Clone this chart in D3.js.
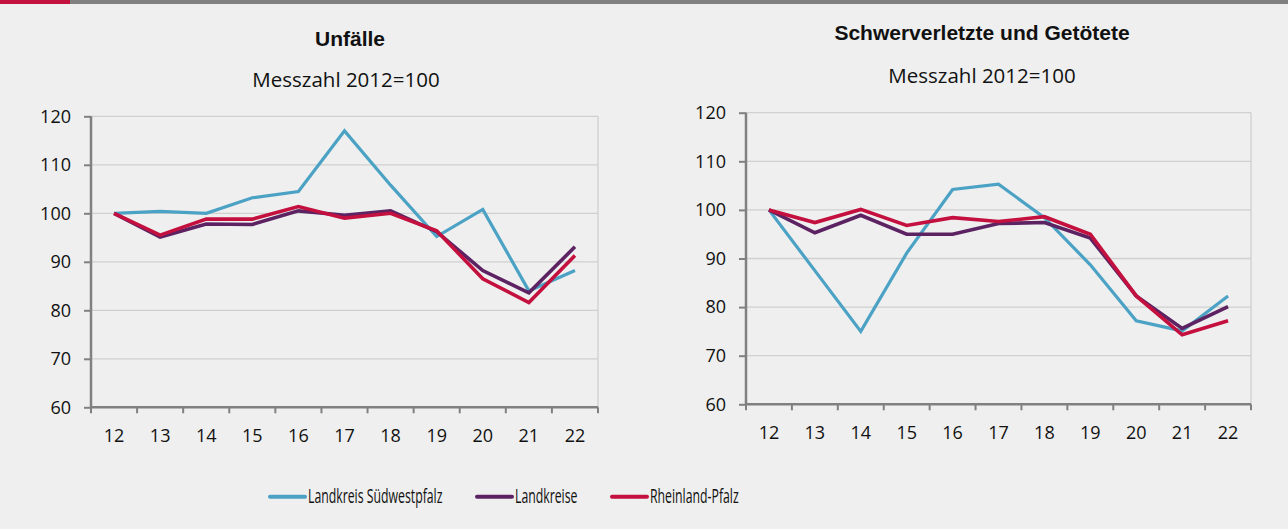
<!DOCTYPE html>
<html>
<head>
<meta charset="utf-8">
<script src="https://cdn.jsdelivr.net/npm/d3@7"></script>
<style>
  html, body { margin: 0; padding: 0; background: #eeefee; }
  svg { display: block; }
</style>
</head>
<body>
<div id="myPlot"></div>
<script>
// Years (2012..2022, shown as two digits)
const years = ["12", "13", "14", "15", "16", "17", "18", "19", "20", "21", "22"];
const yTicks = [60, 70, 80, 90, 100, 110, 120];

const seriesNames = ["Landkreis Südwestpfalz", "Landkreise", "Rheinland-Pfalz"];

// Unfälle, Messzahl 2012=100
const unfaelleSWP   = [100, 100.4, 100, 103.2, 104.5, 117, 105.8, 95.2, 100.8, 84.0, 88.2];
const unfaelleLK    = [100, 95.1, 97.8, 97.7, 100.5, 99.6, 100.5, 96.2, 88.2, 83.6, 93.1];
const unfaelleRLP   = [100, 95.5, 98.8, 98.8, 101.4, 99.0, 100.0, 96.4, 86.5, 81.6, 91.3];

// Schwerverletzte und Getötete, Messzahl 2012=100
const schwerSWP     = [100, 87.5, 75.0, 91.1, 104.2, 105.3, 98.4, 88.7, 77.2, 75.1, 82.3];
const schwerLK      = [100, 95.3, 98.9, 95.0, 95.0, 97.2, 97.4, 94.2, 82.3, 75.6, 80.1];
const schwerRLP     = [100, 97.4, 100.1, 96.8, 98.4, 97.6, 98.6, 95.0, 82.3, 74.3, 77.2];

const colors = ["#4ba2c5", "#5c2262", "#c4103f"];

const width = 1288, height = 529;

const svg = d3.select("#myPlot")
    .append("svg")
    .attr("width", width)
    .attr("height", height);

svg.append("rect").attr("width", width).attr("height", height).attr("fill", "#eeefee");

// top bar
svg.append("rect").attr("x", 0).attr("y", 0).attr("width", width).attr("height", 4).attr("fill", "#808080");
svg.append("rect").attr("x", 0).attr("y", 0).attr("width", 70).attr("height", 4).attr("fill", "#c4123f");

createLineChart({
    left: 91, right: 598, top: 116.3, bottom: 407.3,
    title: "Unfälle", titleX: 350, titleY: 46,
    subtitle: "Messzahl 2012=100", subX: 346, subY: 87,
    series: [unfaelleSWP, unfaelleLK, unfaelleRLP]
});

createLineChart({
    left: 746, right: 1251, top: 112.7, bottom: 404.3,
    title: "Schwerverletzte und Getötete", titleX: 982, titleY: 40,
    subtitle: "Messzahl 2012=100", subX: 982, subY: 83,
    series: [schwerSWP, schwerLK, schwerRLP]
});

function createLineChart(c) {
    const g = svg.append("g");

    const x = d3.scaleBand()
        .domain(years)
        .range([c.left, c.right])
        .padding(0);

    const y = d3.scaleLinear()
        .domain([60, 120])
        .range([c.bottom, c.top]);

    // titles
    g.append("text")
        .attr("x", c.titleX).attr("y", c.titleY)
        .attr("text-anchor", "middle")
        .style("font-family", "'Liberation Sans', Arial, sans-serif")
        .style("font-weight", "bold")
        .style("font-size", "21px")
        .style("fill", "#111")
        .text(c.title);

    g.append("text")
        .attr("x", c.subX).attr("y", c.subY)
        .attr("text-anchor", "middle")
        .style("font-family", "'Open Sans', sans-serif")
        .style("font-size", "20.5px")
        .style("fill", "#111")
        .text(c.subtitle);

    // gridlines
    g.append("g")
        .selectAll("line")
        .data(yTicks.slice(1))
        .enter()
        .append("line")
        .attr("x1", c.left).attr("x2", c.right)
        .attr("y1", d => y(d)).attr("y2", d => y(d))
        .attr("stroke", "#cfd0cf")
        .attr("stroke-width", 1.3);

    // right border of plot area
    g.append("line")
        .attr("x1", c.right).attr("x2", c.right)
        .attr("y1", c.top).attr("y2", c.bottom)
        .attr("stroke", "#cfd0cf")
        .attr("stroke-width", 1.3);

    // Y Axis
    const yAxis = g.append("g")
        .attr("transform", "translate(" + c.left + ",0)")
        .call(d3.axisLeft(y).tickValues(yTicks).tickSize(7).tickPadding(13));
    yAxis.select(".domain").attr("stroke", "#808080").attr("stroke-width", 2.5).attr("d", `M0,${c.top}V${c.bottom}`);
    yAxis.selectAll(".tick line").attr("stroke", "#808080").attr("stroke-width", 2);
    yAxis.selectAll("text")
        .style("font-family", "'Open Sans', sans-serif")
        .style("font-size", "18px")
        .style("fill", "#111");

    // X Axis labels
    const xAxis = g.append("g")
        .attr("transform", "translate(0," + c.bottom + ")")
        .call(d3.axisBottom(x).tickSize(0).tickPadding(21.5));
    xAxis.select(".domain").attr("stroke", "#808080").attr("stroke-width", 2.5).attr("d", `M${c.left},0H${c.right}`);
    xAxis.selectAll("text")
        .style("font-family", "'Open Sans', sans-serif")
        .style("font-size", "18px")
        .style("fill", "#111");

    // X tick marks between categories
    const edges = years.map(d => x(d)).concat([x(years[years.length - 1]) + x.bandwidth()]);
    xAxis.append("g")
        .selectAll("line")
        .data(edges)
        .enter()
        .append("line")
        .attr("x1", d => d).attr("x2", d => d)
        .attr("y1", 0).attr("y2", 6)
        .attr("stroke", "#808080")
        .attr("stroke-width", 2);

    // Lines
    const line = d3.line()
        .x((d, i) => x(years[i]) + x.bandwidth() / 2)
        .y(d => y(d));

    c.series.forEach((values, k) => {
        g.append("path")
            .datum(values)
            .attr("fill", "none")
            .attr("stroke", colors[k])
            .attr("stroke-width", k === 0 ? 3.2 : 3.6)
            .attr("stroke-linejoin", "miter")
            .attr("d", line);
    });
}

// Legend
const legendX = [270, 477, 612];
const legendY = 496.7;
const legend = svg.append("g");
seriesNames.forEach((name, k) => {
    legend.append("line")
        .attr("x1", legendX[k]).attr("x2", legendX[k] + 35)
        .attr("y1", legendY).attr("y2", legendY)
        .attr("stroke", colors[k])
        .attr("stroke-width", 4)
        .attr("stroke-linecap", "round");
    legend.append("text")
        .attr("transform", "translate(" + (legendX[k] + 38) + ",503.3) scale(0.63,1)")
        .style("font-family", "'Open Sans', sans-serif")
        .style("font-size", "19.5px")
        .style("fill", "#111")
        .text(name);
});
</script>
</body>
</html>
